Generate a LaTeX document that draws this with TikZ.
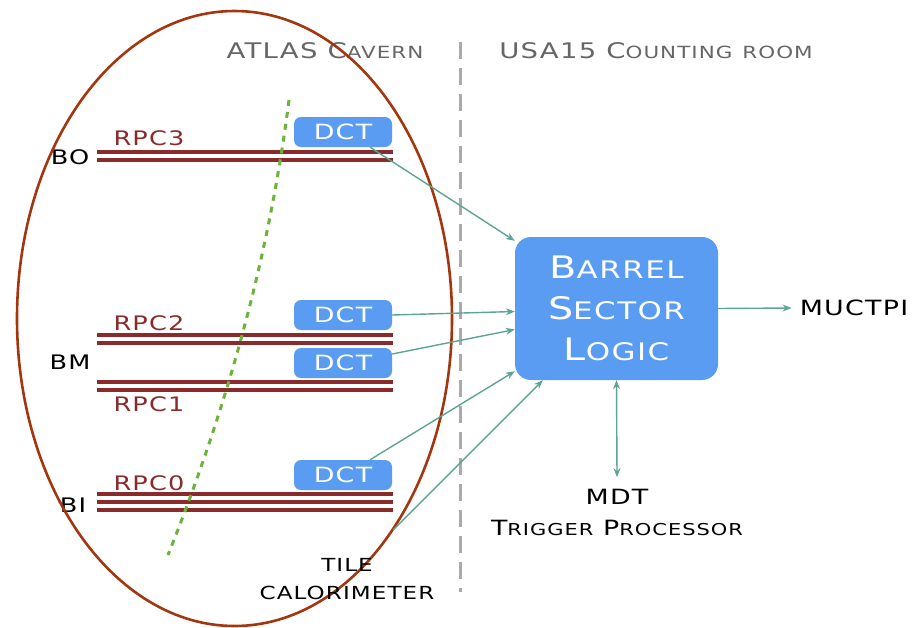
\documentclass[tikz,border=0pt]{standalone}
\usepackage{fontspec}
\setmainfont{DejaVu Sans}[FakeStretch=1.28, LetterSpace=6]
\usetikzlibrary{arrows.meta}
\makeatletter
\newcommand\Fsc[2]{#1{\fontsize{\the\dimexpr0.78\dimexpr\f@size pt\relax\relax}{\baselineskip}\selectfont#2}}
\makeatother
\definecolor{ellcol}{HTML}{A3360F}
\definecolor{rpccol}{HTML}{8A2A2A}
\definecolor{dctblue}{HTML}{5A9CF2}
\definecolor{arrcol}{HTML}{5CA596}
\definecolor{greencol}{HTML}{6CB33A}
\definecolor{hdrgray}{HTML}{666666}
\definecolor{dashgray}{HTML}{AAAAAA}
\tikzset{
  dctbox/.style={fill=dctblue, rounded corners=7pt, minimum width=98pt, minimum height=30pt, text=white, font=\fontsize{21}{22}\selectfont, inner sep=0pt},
  rpcline/.style={draw=rpccol, line width=3.2pt},
  rpclabel/.style={text=rpccol, font=\fontsize{20}{22}\selectfont, inner sep=0pt},
  blabel/.style={text=black, font=\fontsize{20}{22}\selectfont, inner sep=0pt},
  conn/.style={draw=arrcol, line width=1.4pt, -{Stealth[length=9pt,width=7pt]}},
  hdr/.style={text=hdrgray, font=\fontsize{21.5}{24}\selectfont, inner sep=0pt},
  blk/.style={text=black, font=\fontsize{21}{24}\selectfont, inner sep=0pt, align=center}
}
\begin{document}
\begin{tikzpicture}[x=1pt,y=-1pt]
\useasboundingbox (0,0) rectangle (915,627);
% separator
\draw[dashgray, line width=3pt, dash pattern=on 17pt off 9pt] (460,42) -- (460,592);
% headers
\node[hdr] (h1) at (325,51) {ATLAS \Fsc{C}{AVERN}};
\node[hdr] (h2) at (656,51) {USA15 \Fsc{C}{OUNTING} \Fsc{}{ROOM}};
% RPC lines
\foreach \y in {152,160,335,343,382,390,494,502,510}
  \draw[rpcline] (97,\y) -- (393,\y);
% labels
\node[rpclabel] (rpc3) at (149,138) {RPC3};
\node[rpclabel] (rpc2) at (149,323) {RPC2};
\node[rpclabel] (rpc1) at (149,404) {RPC1};
\node[rpclabel] (rpc0) at (149,483) {RPC0};
\node[blabel] (bo) at (70,157) {BO};
\node[blabel] (bm) at (70,362) {BM};
\node[blabel] (bi) at (73,505) {BI};
% green trajectory
\draw[greencol, line width=3pt, dash pattern=on 6pt off 6pt] (289,100) .. controls (270,250) and (230,400) .. (168,555);
% ellipse
\draw[ellcol, line width=2.6pt] (234.5,318.5) ellipse [x radius=217.5, y radius=307.5];
% DCT boxes
\node[dctbox] (dct1) at (343,132) {DCT};
\node[dctbox] (dct2) at (343,315) {DCT};
\node[dctbox] (dct3) at (343,363) {DCT};
\node[dctbox] (dct4) at (343,475) {DCT};
% BSL
\node[fill=dctblue, rounded corners=16pt, minimum width=203pt, minimum height=143pt, text=white, align=center, inner sep=0pt, font=\fontsize{31}{41}\selectfont] (bsl) at (616.5,308.5) {\Fsc{B}{ARREL}\\\Fsc{S}{ECTOR}\\\Fsc{L}{OGIC}};
% outputs
\node[blk] (muctpi) at (854,308) {MUCTPI};
\node[blk] (mdt) at (617,497) {MDT};
\node[blk] (mdttp) at (617,528) {\Fsc{T}{RIGGER} \Fsc{P}{ROCESSOR}};
\node[blk, font=\fontsize{18}{20}\selectfont] (tile) at (347,565) {TILE};
\node[blk, font=\fontsize{18}{20}\selectfont] (calo) at (347,593) {CALORIMETER};
\coordinate (tilestart) at (393,530);
% connectors
\draw[conn] ([xshift=27pt]dct1.south) -- ([yshift=-4pt]bsl.north west);
\draw[conn] (dct2.east) -- ([yshift=-3pt]bsl.west);
\draw[conn] ([yshift=9pt]dct3.east) -- ([yshift=-21pt]bsl.west);
\draw[conn] ([xshift=27pt]dct4.north) -- ([yshift=9pt]bsl.south west);
\draw[conn] (tilestart) -- ([xshift=28pt]bsl.south west);
\draw[conn] (bsl.east) -- ([xshift=-8pt]muctpi.west);
\draw[draw=arrcol, line width=1.4pt, {Stealth[length=9pt,width=7pt]}-{Stealth[length=9pt,width=7pt]}] (bsl.south) -- ([yshift=12pt]mdt.north);
\end{tikzpicture}
\end{document}
